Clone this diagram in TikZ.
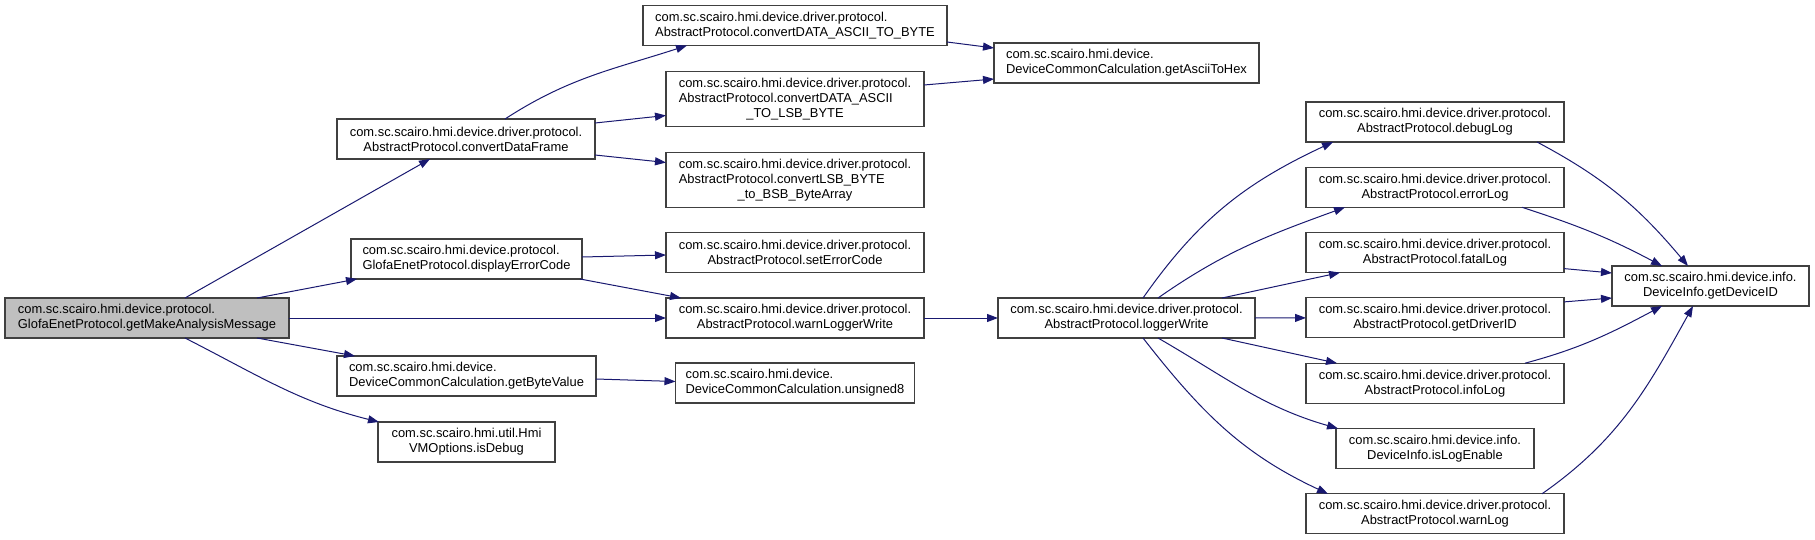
\documentclass[tikz,border=0pt]{standalone}
\usepackage{fontspec}
\setmainfont{Liberation Sans}
\usetikzlibrary{positioning,arrows.meta}
\definecolor{edgeblue}{RGB}{25,25,112}
\definecolor{boxline}{RGB}{64,64,64}
\definecolor{rootgray}{RGB}{191,191,191}
\newcommand{\lcol}[1]{\begin{tabular}[b]{@{}l@{}}#1\end{tabular}}

\begin{document}
\begin{tikzpicture}[
    x=1pt, y=-1pt,
    node distance=25.3pt,
    fn/.style={rectangle, draw=boxline, fill=white, line width=1.1pt, minimum height=40pt, inner sep=2pt, outer sep=0pt, font=\fontsize{12.9}{15}\selectfont, align=center},
    root/.style={fn, fill=rootgray, align=left},
    call/.style={-{Triangle[length=11pt,width=8pt]}, line width=1pt, color=edgeblue}
]
\useasboundingbox (0,0) rectangle (1815,540);

% Caller
\node[root, minimum width=284pt] (main) at (147,318) {com.sc.scairo.hmi.device.protocol.\\GlofaEnetProtocol.getMakeAnalysisMessage};

% Second column
\node[fn, minimum width=258pt] (dataframe) at (466,139) {com.sc.scairo.hmi.device.driver.protocol.\\AbstractProtocol.convertDataFrame};
\node[fn, align=left, minimum width=231pt] (errcode) at (466.5,259) {com.sc.scairo.hmi.device.protocol.\\GlofaEnetProtocol.displayErrorCode};
\node[fn, align=left, minimum width=259pt] (bytevalue) at (466.5,376) {com.sc.scairo.hmi.device.\\DeviceCommonCalculation.getByteValue};
\node[fn, minimum width=177pt] (isdebug) at (466.5,442) {com.sc.scairo.hmi.util.Hmi\\VMOptions.isDebug};

% Third column
\node[fn, align=left, minimum width=304pt] (asciibyte) at (795,25.5) {com.sc.scairo.hmi.device.driver.protocol.\\AbstractProtocol.convertDATA\_ASCII\_TO\_BYTE};
\node[fn, minimum width=258pt, minimum height=55pt, below=26pt of asciibyte] (asciilsb) {\lcol{com.sc.scairo.hmi.device.driver.protocol.\\AbstractProtocol.convertDATA\_ASCII}\\\_TO\_LSB\_BYTE};
\node[fn, minimum width=258pt, minimum height=55pt, below=26pt of asciilsb] (lsbbsb) {\lcol{com.sc.scairo.hmi.device.driver.protocol.\\AbstractProtocol.convertLSB\_BYTE}\\\_to\_BSB\_ByteArray};
\node[fn, minimum width=258pt, below=25pt of lsbbsb] (seterr) {com.sc.scairo.hmi.device.driver.protocol.\\AbstractProtocol.setErrorCode};
\node[fn, minimum width=258pt, below=25.5pt of seterr] (warnlw) {com.sc.scairo.hmi.device.driver.protocol.\\AbstractProtocol.warnLoggerWrite};
\node[fn, align=left, minimum width=239pt, below=25pt of warnlw] (unsigned) {com.sc.scairo.hmi.device.\\DeviceCommonCalculation.unsigned8};

% Fourth column
\node[fn, align=left, minimum width=265pt] (hex) at (1126.5,63) {com.sc.scairo.hmi.device.\\DeviceCommonCalculation.getAsciiToHex};
\node[fn, minimum width=257pt] (logger) at (1126.5,318) {com.sc.scairo.hmi.device.driver.protocol.\\AbstractProtocol.loggerWrite};

% Log methods
\node[fn, minimum width=258pt] (debuglog) at (1435,122) {com.sc.scairo.hmi.device.driver.protocol.\\AbstractProtocol.debugLog};
\node[fn, minimum width=258pt, below=of debuglog] (errorlog) {com.sc.scairo.hmi.device.driver.protocol.\\AbstractProtocol.errorLog};
\node[fn, minimum width=258pt, below=of errorlog] (fatallog) {com.sc.scairo.hmi.device.driver.protocol.\\AbstractProtocol.fatalLog};
\node[fn, minimum width=258pt, below=of fatallog] (driverid) {com.sc.scairo.hmi.device.driver.protocol.\\AbstractProtocol.getDriverID};
\node[fn, minimum width=258pt, below=of driverid] (infolog) {com.sc.scairo.hmi.device.driver.protocol.\\AbstractProtocol.infoLog};
\node[fn, minimum width=198pt, below=of infolog] (logenable) {com.sc.scairo.hmi.device.info.\\DeviceInfo.isLogEnable};
\node[fn, minimum width=258pt, below=of logenable] (warnlog) {com.sc.scairo.hmi.device.driver.protocol.\\AbstractProtocol.warnLog};

\node[fn, minimum width=197pt] (deviceid) at (1710.5,286) {com.sc.scairo.hmi.device.info.\\DeviceInfo.getDeviceID};

% Calls
\draw[call] ([xshift=38pt]main.north) -- ([xshift=-36pt]dataframe.south);
\draw[call] ([xshift=-32pt]main.north east) -- ([xshift=6pt]errcode.south west);
\draw[call] (main.east) -- (warnlw.west);
\draw[call] ([xshift=-32pt]main.south east) -- ([xshift=18pt]bytevalue.north west);
\draw[call] ([xshift=38pt]main.south) to[out=-27, in=166] ([xshift=1pt]isdebug.north west);

\draw[call] ([xshift=39pt]dataframe.north) to[out=33, in=198] ([xshift=44pt]asciibyte.south west);
\draw[call] ([yshift=16pt]dataframe.east) -- ([yshift=-16.5pt]asciilsb.west);
\draw[call] ([yshift=-16pt]dataframe.east) -- ([yshift=17.5pt]lsbbsb.west);
\draw[call] ([yshift=2pt]errcode.east) -- ([yshift=-2.5pt]seterr.west);
\draw[call] ([xshift=-2pt]errcode.south east) -- ([xshift=15pt]warnlw.north west);
\draw[call] ([yshift=-3pt]bytevalue.east) -- ([yshift=1.5pt]unsigned.west);

\draw[call] ([yshift=-16.5pt]asciibyte.east) -- ([yshift=15pt]hex.west);
\draw[call] ([yshift=14pt]asciilsb.east) -- ([yshift=-16pt]hex.west);
\draw[call] (warnlw.east) -- (logger.west);

\draw[call] ([xshift=16.5pt]logger.north) to[out=55, in=205] ([xshift=27pt]debuglog.south west);
\draw[call] ([xshift=31.5pt]logger.north) to[out=35, in=200] ([xshift=39pt]errorlog.south west);
\draw[call] ([xshift=-33pt]logger.north east) -- ([xshift=34pt]fatallog.south west);
\draw[call] (logger.east) -- (driverid.west);
\draw[call] ([xshift=-33pt]logger.south east) -- ([xshift=31pt]infolog.north west);
\draw[call] ([xshift=31.5pt]logger.south) to[out=-30, in=164] ([xshift=2pt]logenable.north west);
\draw[call] ([xshift=16.5pt]logger.south) to[out=-52, in=155] ([xshift=22pt]warnlog.north west);

\draw[call] ([xshift=-27pt]debuglog.south east) to[out=-28, in=130] ([xshift=-22.5pt]deviceid.north);
\draw[call] ([xshift=-42pt]errorlog.south east) to[out=-18, in=152] ([xshift=-48.5pt]deviceid.north);
\draw[call] ([yshift=-16pt]fatallog.east) -- ([yshift=13pt]deviceid.west);
\draw[call] ([yshift=16pt]driverid.east) -- ([yshift=-12pt]deviceid.west);
\draw[call] ([xshift=-39pt]infolog.north east) to[out=15, in=208] ([xshift=-48.5pt]deviceid.south);
\draw[call] ([xshift=-22pt]warnlog.north east) to[out=35, in=-119] ([xshift=-17.5pt]deviceid.south);
\end{tikzpicture}
\end{document}
